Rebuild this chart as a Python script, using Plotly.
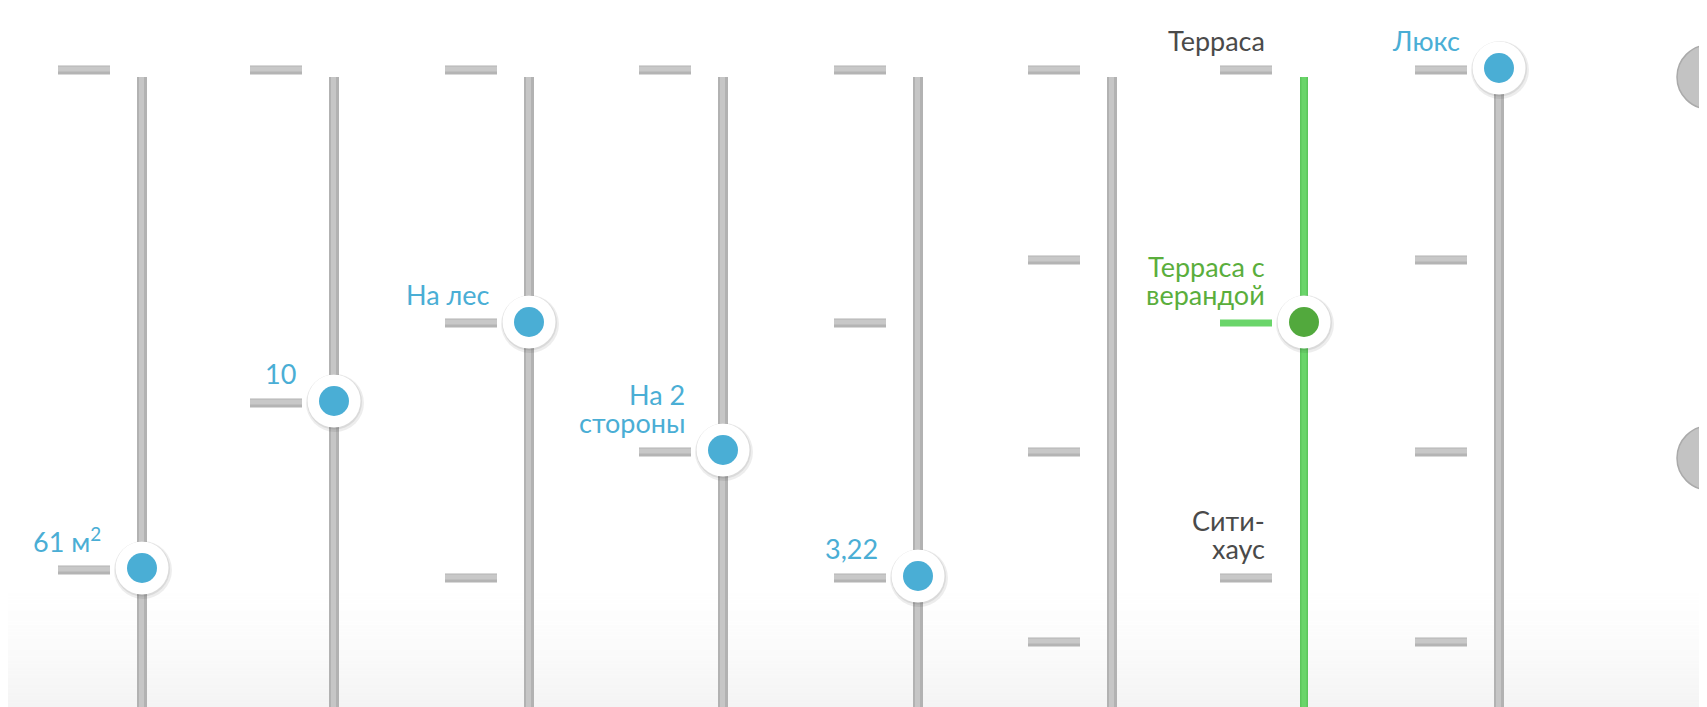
import plotly.graph_objects as go

# ---------------- data ----------------
slider_ids = ["area", "floor", "view", "windows", "ceiling", "type_a", "type_b", "finish", "extra"]
tick_levels = [
    [70, 570],
    [70, 403],
    [70, 323, 578],
    [70, 452],
    [70, 323, 578],
    [70, 260, 452, 642],
    [70, 323, 578],
    [70, 260, 452, 642],
]
selected_levels = [568, 401, 322, 450, 576, None, 322, 68]
selected_labels = ["61 м<sup>2</sup>", "10", "На лес", "На 2<br>стороны", "3,22", None,
                   "Терраса с<br>верандой", "Люкс"]
option_label_slider = [6, 6]
option_label_level = [70, 578]
option_label_text = ["Терраса", "Сити-<br>хаус"]
extra_knob_levels = [77, 458]
highlight_slider = 6

# ---------------- layout / style ----------------
W, H = 1707, 707
PAGE_MARGIN = 8  # default body margin of the html page
column_px = [142, 334, 529, 723, 918, 1112, 1304, 1499, 1709]
label_gap = [39, 36, 37, 36, 38, None, 37, 37]
BLUE = "#4aaed5"
GREEN_DOT = "#52a93d"
GREEN_LINE = "#6ad56a"
GREEN_TXT = "#5aae3c"
GRAY_TXT = "#4a4a4a"
FONT = "Lato"
FS = 27
LINE_GAP = 28

fig = go.Figure()

# vertical tracks
gx, gy = [], []
for i, cx in enumerate(column_px):
    if i == highlight_slider:
        continue
    gx += [cx, cx, None]
    gy += [77, H + 30, None]
fig.add_trace(go.Scatter(x=gx, y=gy, mode="lines", line=dict(color="#b2b2b2", width=10),
                         hoverinfo="skip", showlegend=False))
fig.add_trace(go.Scatter(x=[v - 0.5 if v is not None else None for v in gx], y=gy, mode="lines",
                         line=dict(color="#c6c6c6", width=5), hoverinfo="skip", showlegend=False))
hx = column_px[highlight_slider]
fig.add_trace(go.Scatter(x=[hx, hx], y=[77, H + 30], mode="lines",
                         line=dict(color="#5cc65c", width=8), hoverinfo="skip", showlegend=False))
fig.add_trace(go.Scatter(x=[hx, hx], y=[77, H + 30], mode="lines",
                         line=dict(color=GREEN_LINE, width=5), hoverinfo="skip", showlegend=False))

# tick marks
tx, ty, tx2, ty2 = [], [], [], []
green_tick = None
for i, levels in enumerate(tick_levels):
    cx = column_px[i]
    for lv in levels:
        if i == highlight_slider and lv == selected_levels[i] + 1:
            green_tick = (cx, lv)
            continue
        tx += [cx - 84, cx - 32, None]
        ty += [lv, lv, None]
        tx2 += [cx - 84, cx - 32, None]
        ty2 += [lv - 1, lv - 1, None]
fig.add_trace(go.Scatter(x=tx, y=ty, mode="lines", line=dict(color="#b4b4b4", width=9),
                         hoverinfo="skip", showlegend=False))
fig.add_trace(go.Scatter(x=tx2, y=ty2, mode="lines", line=dict(color="#c8c8c8", width=5),
                         hoverinfo="skip", showlegend=False))
if green_tick:
    fig.add_trace(go.Scatter(x=[green_tick[0] - 84, green_tick[0] - 32], y=[green_tick[1]] * 2,
                             mode="lines", line=dict(color=GREEN_LINE, width=7),
                             hoverinfo="skip", showlegend=False))

# knobs
kx = [column_px[i] for i, v in enumerate(selected_levels) if v is not None]
ky = [v for v in selected_levels if v is not None]
kc = [GREEN_DOT if i == highlight_slider else BLUE
      for i, v in enumerate(selected_levels) if v is not None]
fig.add_trace(go.Scatter(x=[x + 1 for x in kx], y=[y + 2 for y in ky], mode="markers",
                         marker=dict(size=58, color="rgba(0,0,0,0.07)"),
                         hoverinfo="skip", showlegend=False))
fig.add_trace(go.Scatter(x=[x + 0.5 for x in kx], y=[y + 1 for y in ky], mode="markers",
                         marker=dict(size=55, color="rgba(0,0,0,0.08)"),
                         hoverinfo="skip", showlegend=False))
fig.add_trace(go.Scatter(x=kx, y=ky, mode="markers",
                         marker=dict(size=53, color="white"),
                         hoverinfo="skip", showlegend=False))
fig.add_trace(go.Scatter(x=kx, y=ky, mode="markers",
                         marker=dict(size=30, color=kc),
                         hoverinfo="skip", showlegend=False))

# partially visible extra slider knobs
fig.add_trace(go.Scatter(x=[column_px[8]] * len(extra_knob_levels), y=extra_knob_levels,
                         mode="markers",
                         marker=dict(size=64, color="#c3c3c3", line=dict(color="#aaaaaa", width=1.5)),
                         hoverinfo="skip", showlegend=False, cliponaxis=False))

# labels
annotations = []


def add_label(cx_right, level, text, color):
    lines = text.split("<br>")
    n = len(lines)
    for k, ln in enumerate(lines):
        yc = level - 30 - (n - 1 - k) * LINE_GAP
        annotations.append(dict(x=cx_right, y=yc, xref="x", yref="y", text=ln, showarrow=False,
                                xanchor="right", yanchor="middle",
                                font=dict(family=FONT, size=FS, color=color)))


for i, lab in enumerate(selected_labels):
    if lab is None:
        continue
    color = GREEN_TXT if i == highlight_slider else BLUE
    add_label(column_px[i] - label_gap[i], selected_levels[i] + 2, lab, color)
for s, lv, t in zip(option_label_slider, option_label_level, option_label_text):
    add_label(column_px[s] - label_gap[s], lv, t, GRAY_TXT)

# bottom shading
shapes = []
nb = 40
y0 = 575
for k in range(nb):
    ya = y0 + (H + 10 - y0) * k / nb
    yb = y0 + (H + 10 - y0) * (k + 1) / nb
    a = 0.05 * ((k + 0.5) / nb) ** 1.6
    shapes.append(dict(type="rect", xref="x", yref="y", x0=0, x1=W + 20, y0=ya, y1=yb,
                       fillcolor=f"rgba(0,0,0,{a:.4f})", line=dict(width=0), layer="below"))

fig.update_layout(
    width=W, height=H, margin=dict(l=0, r=0, t=0, b=0),
    paper_bgcolor="white", plot_bgcolor="white",
    xaxis=dict(range=[PAGE_MARGIN, W + PAGE_MARGIN], visible=False, fixedrange=True),
    yaxis=dict(range=[H + PAGE_MARGIN, PAGE_MARGIN], visible=False, fixedrange=True),
    annotations=annotations, shapes=shapes, showlegend=False,
)
fig.write_html("out.html", config={"displayModeBar": False})
